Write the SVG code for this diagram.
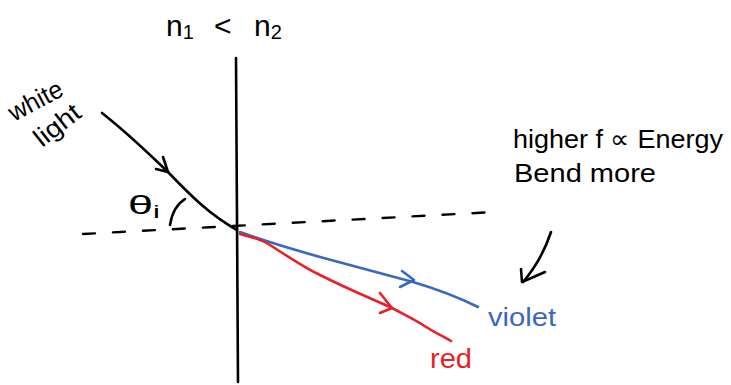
<svg xmlns="http://www.w3.org/2000/svg" width="731" height="385" viewBox="0 0 731 385">
<style>
.ink{fill:none;stroke:#000;stroke-width:2.6;stroke-linecap:round;stroke-linejoin:round}
.blue{fill:none;stroke:#3a66c4;stroke-width:2.6;stroke-linecap:round;stroke-linejoin:round}
.red{fill:none;stroke:#e8202a;stroke-width:2.6;stroke-linecap:round;stroke-linejoin:round}
.dash{fill:none;stroke:#000;stroke-width:2.4;stroke-dasharray:12 18;stroke-linecap:round}
text{font-family:"Liberation Sans",Arial,sans-serif}
.t{fill:#000;font-size:26px}
.n{fill:#000;font-size:30px}
</style>
<rect width="731" height="385" fill="#fff"/>
<g id="labels">
<text class="n" x="166" y="36">n<tspan font-size="20" dy="3">1</tspan></text>
<text class="n" x="214" y="36">&lt;</text>
<text class="n" x="254" y="36">n<tspan font-size="20" dy="3">2</tspan></text>
<text class="t" x="14" y="122" transform="rotate(-28 14 122)" textLength="58" lengthAdjust="spacingAndGlyphs">white</text>
<text class="t" x="42" y="148" transform="rotate(-38 42 148)" textLength="52" lengthAdjust="spacingAndGlyphs">light</text>
<text class="t" x="128" y="214" textLength="32" lengthAdjust="spacingAndGlyphs">θ<tspan font-size="18" dy="4">i</tspan></text>
<text class="t" x="513" y="148" textLength="210" lengthAdjust="spacingAndGlyphs">higher f ∝ Energy</text>
<text class="t" x="514" y="182" textLength="142" lengthAdjust="spacingAndGlyphs">Bend more</text>
<text x="488" y="326" fill="#3a66c4" font-size="26" textLength="68" lengthAdjust="spacingAndGlyphs">violet</text>
<text x="430" y="368" fill="#e8202a" font-size="28" textLength="42" lengthAdjust="spacingAndGlyphs">red</text>
</g>
<g id="axes">
<path class="ink" d="M236 58 L237 220 L238 382"/>
<path class="dash" d="M83 234 L495 212"/>
</g>
<g id="connectors">
<g id="incident">
<path class="ink" d="M102 113 C130 135 150 155 168 172 C190 195 210 215 237 230"/>
<path class="ink" d="M163 157 L168 172 L156 169"/>
</g>
<path class="ink" d="M170 225 C172 212 177 204 185 199"/>
<g id="violet-ray">
<path class="blue" d="M240 232 C270 243 295 250 320 257 C360 268 390 276 413 282 C440 290 460 298 478 307"/>
<path class="blue" d="M402 271 L414 280 L400 287"/>
</g>
<g id="red-ray">
<path class="red" d="M240 234 C255 238 262 240 270 245 C290 258 305 268 320 275 C350 290 370 298 392 308 C405 315 415 320 423 325 C435 333 443 336 451 341"/>
<path class="red" d="M380 293 L392 308 L380 313"/>
</g>
<g id="hint-arrow">
<path class="ink" d="M551 232 C545 250 535 268 523 282"/>
<path class="ink" d="M521 269 L522 282 L545 272"/>
</g>
</g>
</svg>
